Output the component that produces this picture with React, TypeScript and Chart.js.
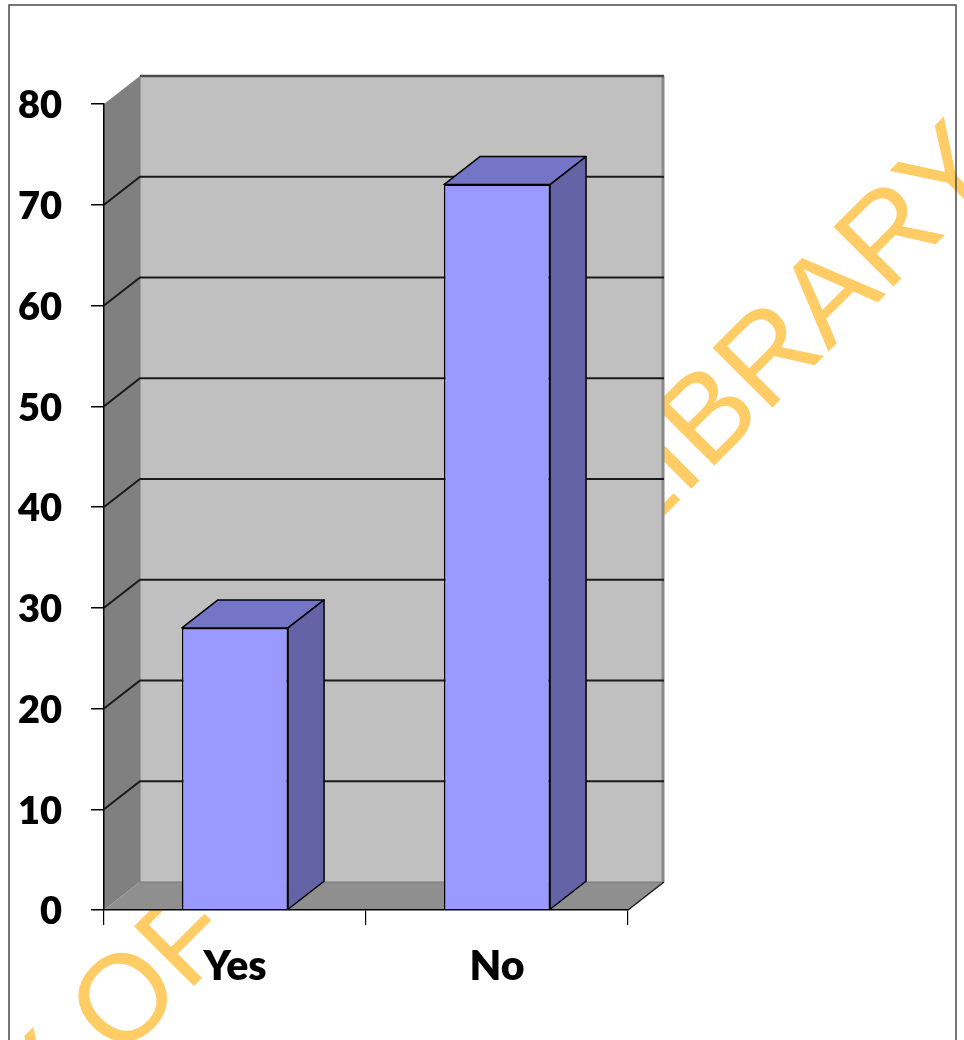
import React, { useEffect, useRef } from "react";
import { Chart, registerables } from "chart.js";

Chart.register(...registerables);

const categories = ["Yes", "No"];
const values = [28, 72];
const yMin = 0;
const yMax = 80;
const yStep = 10;
const watermarkStart = "UNIVERSITY OF";
const watermarkMiddle = "IBADAN";
const watermarkEnd = "LIBRARY";

const DX = 36;
const DY = -28;

const threeD = {
  id: "threeD",
  beforeDraw(chart: any) {
    const ctx = chart.ctx as CanvasRenderingContext2D;
    const xs = chart.scales.x;
    const ys = chart.scales.y;
    const L = xs.left;
    const R = xs.right;
    const T = ys.getPixelForValue(yMax);
    const B = ys.getPixelForValue(yMin);

    ctx.save();
    ctx.fillStyle = "#ffffff";
    ctx.fillRect(0, 0, chart.width, chart.height);

    // watermark
    ctx.fillStyle = "#FFCC66";
    ctx.font = "123px 'Liberation Sans'";
    ctx.textBaseline = "alphabetic";
    const C = 1180;
    const at = (s: number) => [(C + s * Math.SQRT2) / 2, (C - s * Math.SQRT2) / 2];
    const drawAt = (text: string, s: number, align: CanvasTextAlign) => {
      const [px, py] = at(s);
      ctx.save();
      ctx.translate(px, py);
      ctx.rotate(-Math.PI / 4);
      ctx.textAlign = align;
      ctx.fillText(text, 0, 0);
      ctx.restore();
    };
    const oStart = -666;
    drawAt(watermarkStart, oStart - ctx.measureText("UNIVERSITY ").width, "left");
    const lStart = 248 - ctx.measureText("LIB").width;
    drawAt(watermarkEnd, lStart, "left");
    drawAt(watermarkMiddle, lStart - ctx.measureText(" ").width, "right");

    // frame
    ctx.strokeStyle = "#4a4a4a";
    ctx.lineWidth = 1.5;
    ctx.strokeRect(9, 5, 947, 1100);

    // left wall
    ctx.fillStyle = "#808080";
    ctx.beginPath();
    ctx.moveTo(L, T);
    ctx.lineTo(L + DX, T + DY);
    ctx.lineTo(L + DX, B + DY);
    ctx.lineTo(L, B);
    ctx.closePath();
    ctx.fill();

    // floor
    ctx.fillStyle = "#8F8F8F";
    ctx.beginPath();
    ctx.moveTo(L, B);
    ctx.lineTo(L + DX, B + DY);
    ctx.lineTo(R + DX, B + DY);
    ctx.lineTo(R, B);
    ctx.closePath();
    ctx.fill();

    // back wall
    ctx.fillStyle = "#C0C0C0";
    ctx.fillRect(L + DX, T + DY, R - L, B - T);

    // back wall right edge shade
    ctx.strokeStyle = "#8a8a8a";
    ctx.lineWidth = 3;
    ctx.beginPath();
    ctx.moveTo(R + DX - 1, T + DY);
    ctx.lineTo(R + DX - 1, B + DY);
    ctx.stroke();

    // left edge of back wall (subtle)
    ctx.strokeStyle = "#9a9a9a";
    ctx.lineWidth = 1;
    ctx.beginPath();
    ctx.moveTo(L + DX + 0.5, T + DY);
    ctx.lineTo(L + DX + 0.5, B + DY);
    ctx.stroke();

    // floor back edge
    ctx.strokeStyle = "#7a7a7a";
    ctx.lineWidth = 1;
    ctx.beginPath();
    ctx.moveTo(L + DX, B + DY);
    ctx.lineTo(R + DX, B + DY);
    ctx.stroke();

    // gridlines
    ctx.strokeStyle = "#1a1a1a";
    ctx.lineWidth = 2;
    for (let v = yMin + yStep; v < yMax; v += yStep) {
      const py = ys.getPixelForValue(v);
      ctx.beginPath();
      ctx.moveTo(L, py);
      ctx.lineTo(L + DX, py + DY);
      ctx.lineTo(R + DX, py + DY);
      ctx.stroke();
    }
    // top edge of back wall
    ctx.strokeStyle = "#4a4a4a";
    ctx.lineWidth = 2.5;
    ctx.beginPath();
    ctx.moveTo(L + DX, T + DY);
    ctx.lineTo(R + DX, T + DY);
    ctx.stroke();

    // floor right diagonal
    ctx.strokeStyle = "#1a1a1a";
    ctx.lineWidth = 1.5;
    ctx.beginPath();
    ctx.moveTo(R, B);
    ctx.lineTo(R + DX, B + DY);
    ctx.stroke();

    ctx.restore();
  },
  afterDatasetsDraw(chart: any) {
    const ctx = chart.ctx as CanvasRenderingContext2D;
    const meta = chart.getDatasetMeta(0);
    ctx.save();
    ctx.lineWidth = 1.5;
    ctx.strokeStyle = "#000";
    ctx.lineJoin = "round";
    meta.data.forEach((bar: any) => {
      const { x, y, base, width } = bar.getProps(["x", "y", "base", "width"], true);
      const l = x - width / 2;
      const r = x + width / 2;
      ctx.fillStyle = "#7575C8";
      ctx.beginPath();
      ctx.moveTo(l, y);
      ctx.lineTo(l + DX, y + DY);
      ctx.lineTo(r + DX, y + DY);
      ctx.lineTo(r, y);
      ctx.closePath();
      ctx.fill();
      ctx.stroke();
      ctx.fillStyle = "#6363A6";
      ctx.beginPath();
      ctx.moveTo(r, y);
      ctx.lineTo(r + DX, y + DY);
      ctx.lineTo(r + DX, base + DY);
      ctx.lineTo(r, base);
      ctx.closePath();
      ctx.fill();
      ctx.stroke();
    });
    ctx.restore();
  },
};

export default function App() {
  const ref = useRef<HTMLCanvasElement | null>(null);
  useEffect(() => {
    if (!ref.current) return;
    const chart = new Chart(ref.current, {
      type: "bar",
      data: {
        labels: categories,
        datasets: [
          {
            data: values,
            backgroundColor: "#9999FF",
            borderColor: "#000000",
            borderWidth: 1.5,
            barPercentage: 0.405,
            categoryPercentage: 1,
          },
        ],
      },
      options: {
        responsive: false,
        animation: false,
        devicePixelRatio: 1,
        layout: { padding: { left: 0, top: 104, right: 336, bottom: 0 } },
        plugins: { legend: { display: false }, tooltip: { enabled: false } },
        scales: {
          x: {
            afterFit: (s: any) => {
              s.height = 130;
            },
            grid: {
              offset: true,
              drawOnChartArea: false,
              drawTicks: true,
              tickLength: 15,
              color: "#000",
              lineWidth: 1.2,
            },
            border: { display: true, color: "#000", width: 1.5 },
            ticks: {
              color: "#000",
              padding: 17,
              font: { family: "Lato", size: 41, weight: "800" },
            },
          },
          y: {
            min: yMin,
            max: yMax,
            afterFit: (s: any) => {
              s.width = 104;
            },
            grid: {
              drawOnChartArea: false,
              drawTicks: true,
              tickLength: 13,
              color: "#000",
              lineWidth: 1.5,
            },
            border: { display: true, color: "#000", width: 1.5 },
            ticks: {
              stepSize: yStep,
              color: "#000",
              padding: 29,
              labelOffset: 2,
              font: { family: "Lato", size: 38, weight: "800" },
            },
          },
        },
      },
      plugins: [threeD],
    });
    return () => chart.destroy();
  }, []);
  return (
    <div style={{ position: "fixed", left: 0, top: 0, width: 964, height: 1040, background: "#fff" }}>
      <canvas ref={ref} width={964} height={1040} style={{ width: 964, height: 1040, display: "block" }} />
    </div>
  );
}
